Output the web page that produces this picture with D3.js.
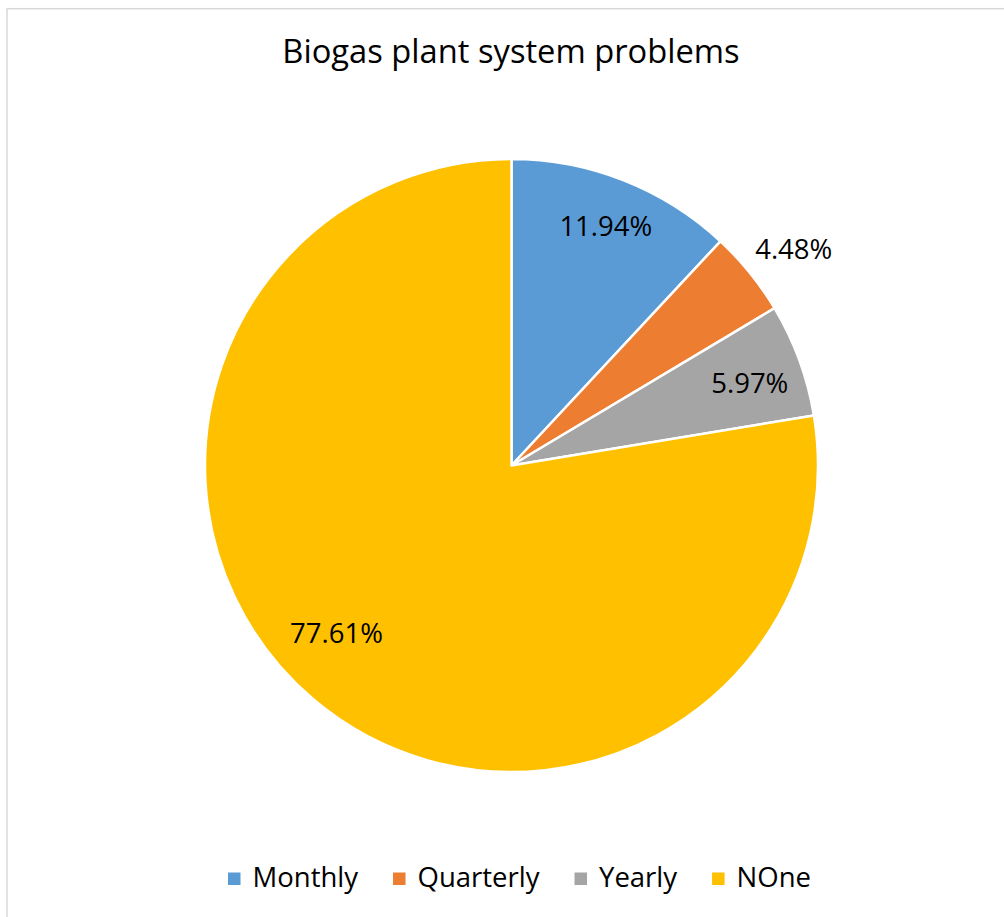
<!DOCTYPE html>
<html>
<head>
<meta charset="utf-8">
<script src="https://cdn.jsdelivr.net/npm/d3@7/dist/d3.min.js"></script>
<style>
  html, body { margin: 0; padding: 0; background: #fff; }
  svg { display: block; }
  text { font-family: "Open Sans", "Noto Sans", sans-serif; fill: #000; }
</style>
</head>
<body>
<svg id="chart" width="1004" height="917"></svg>
<script>
// Chart data
const categories = ["Monthly", "Quarterly", "Yearly", "NOne"];
const values = [11.94, 4.48, 5.97, 77.61];
const valueLabels = ["11.94%", "4.48%", "5.97%", "77.61%"];
const colors = ["#5B9BD5", "#ED7D31", "#A5A5A5", "#FFC000"];
const titleText = "Biogas plant system problems";

// Label placement: radius as share of pie radius, plus a small angular nudge (degrees)
const labelRadius = [0.84, 1.16, 0.823, 0.79];
const labelNudge = [0, 1.5, 1, 6];

const width = 1004, height = 917;
const cx = 511.5, cy = 465.5, radius = 306.5;

const svg = d3.select("#chart");

// Chart frame
svg.append("rect")
  .attr("x", 7).attr("y", 8.7)
  .attr("width", width + 20).attr("height", height + 20)
  .attr("fill", "#fff")
  .attr("stroke", "#d9d9d9")
  .attr("stroke-width", 1.5);

// Title
svg.append("text")
  .attr("x", 511).attr("y", 63)
  .attr("text-anchor", "middle")
  .style("font-size", "32.7px")
  .text(titleText);

const data = categories.map((c, i) => ({ name: c, value: values[i], label: valueLabels[i], i }));

const pie = d3.pie().value(d => d.value).sort(null);
const arcs = pie(data);
const arc = d3.arc().innerRadius(0).outerRadius(radius);

const g = svg.append("g").attr("transform", `translate(${cx},${cy})`);

g.selectAll("path.slice")
  .data(arcs)
  .join("path")
  .attr("class", "slice")
  .attr("d", arc)
  .attr("fill", d => colors[d.data.i])
  .attr("stroke", "#fff")
  .attr("stroke-width", 2.5)
  .attr("stroke-linejoin", "round");

// Data labels
g.selectAll("text.lbl")
  .data(arcs)
  .join("text")
  .attr("class", "lbl")
  .attr("text-anchor", "middle")
  .attr("dy", "0.357em")
  .style("font-size", "27.5px")
  .attr("x", d => {
    const a = (d.startAngle + d.endAngle) / 2 + labelNudge[d.data.i] * Math.PI / 180;
    return Math.sin(a) * radius * labelRadius[d.data.i];
  })
  .attr("y", d => {
    const a = (d.startAngle + d.endAngle) / 2 + labelNudge[d.data.i] * Math.PI / 180;
    return -Math.cos(a) * radius * labelRadius[d.data.i];
  })
  .text(d => d.data.label);

// Legend
const legend = svg.append("g").attr("class", "legend");
const marker = 12.5, textGap = 12, itemGap = 35;
let lx = 228;
const legendBaseline = 886.7;
categories.forEach((c, i) => {
  legend.append("rect")
    .attr("x", lx).attr("y", 872.5)
    .attr("width", marker).attr("height", marker)
    .attr("fill", colors[i]);
  const t = legend.append("text")
    .attr("x", lx + marker + textGap)
    .attr("y", legendBaseline)
    .style("font-size", "27.5px")
    .text(c);
  const w = t.node().getComputedTextLength();
  lx += marker + textGap + w + itemGap;
});
</script>
</body>
</html>
